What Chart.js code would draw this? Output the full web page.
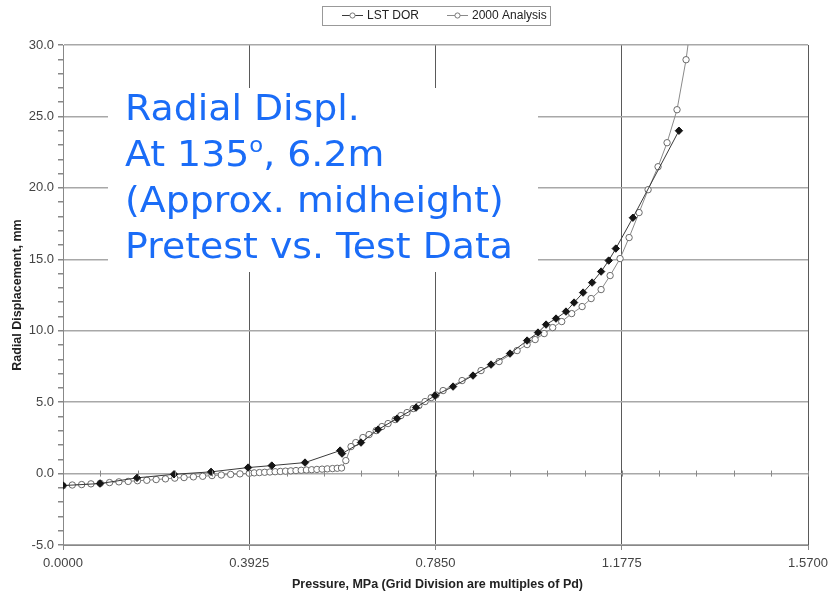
<!DOCTYPE html>
<html>
<head>
<meta charset="utf-8">
<script src="https://cdn.jsdelivr.net/npm/chart.js@4.4.1/dist/chart.umd.min.js"></script>
<style>
  html, body { margin: 0; padding: 0; background: #fff; }
  #wrap { width: 830px; height: 597px; }
</style>
</head>
<body>
<div id="wrap"><canvas id="chart" width="830" height="597"></canvas></div>
<script>
// Axis ticks
const xTicks = [0, 0.3925, 0.785, 1.1775, 1.57];
const yTicks = [-5, 0, 5, 10, 15, 20, 25, 30];
const xMinorStep = 0.0785;
const yMinorStep = 1;

// LST DOR (test data)
const lstPressure = [0, 0.078, 0.156, 0.234, 0.312, 0.390, 0.440, 0.510, 0.584, 0.588,
  0.628, 0.664, 0.704, 0.744, 0.784, 0.822, 0.864, 0.902, 0.942, 0.978,
  1.001, 1.018, 1.039, 1.060, 1.077, 1.096, 1.115, 1.134, 1.150, 1.165,
  1.201, 1.298];
const lstDispl = [-0.84, -0.70, -0.30, -0.05, 0.12, 0.42, 0.56, 0.77, 1.61, 1.40,
  2.17, 3.08, 3.85, 4.62, 5.46, 6.09, 6.86, 7.63, 8.40, 9.31,
  9.87, 10.43, 10.85, 11.34, 11.97, 12.67, 13.37, 14.14, 14.91, 15.75,
  17.91, 24.0];

// 2000 Analysis (pretest)
const anaPressure = [0, 0.0196, 0.0393, 0.0589, 0.0785, 0.0981, 0.1178, 0.1374, 0.1570, 0.1766,
  0.1963, 0.2159, 0.2355, 0.2551, 0.2748, 0.2944, 0.3140, 0.3336, 0.3533, 0.3729,
  0.3925, 0.403, 0.414, 0.425, 0.436, 0.447, 0.458, 0.469, 0.480, 0.491,
  0.502, 0.513, 0.524, 0.535, 0.546, 0.557, 0.568, 0.578, 0.587, 0.596,
  0.607, 0.617, 0.632, 0.645, 0.660, 0.672, 0.685, 0.700, 0.712, 0.725,
  0.738, 0.750, 0.763, 0.776, 0.786, 0.801, 0.841, 0.881, 0.919, 0.957,
  0.978, 0.995, 1.014, 1.032, 1.051, 1.072, 1.094, 1.113, 1.134, 1.153,
  1.174, 1.193, 1.214, 1.233, 1.254, 1.273, 1.294, 1.313, 1.325];
const anaDispl = [-0.85, -0.80, -0.77, -0.72, -0.68, -0.63, -0.58, -0.55, -0.50, -0.47,
  -0.42, -0.37, -0.32, -0.28, -0.23, -0.19, -0.14, -0.10, -0.06, -0.02,
  0.02, 0.05, 0.07, 0.09, 0.11, 0.13, 0.15, 0.17, 0.19, 0.21,
  0.23, 0.25, 0.27, 0.29, 0.31, 0.33, 0.35, 0.37, 0.39, 0.91,
  1.89, 2.17, 2.52, 2.73, 3.01, 3.29, 3.50, 3.78, 4.06, 4.27,
  4.55, 4.76, 5.04, 5.32, 5.50, 5.81, 6.51, 7.21, 7.84, 8.61,
  9.03, 9.38, 9.80, 10.22, 10.64, 11.20, 11.69, 12.25, 12.88, 13.86,
  15.05, 16.52, 18.27, 19.87, 21.48, 23.16, 25.47, 28.97, 32.0];

const seriesLabels = ['LST DOR', '2000 Analysis'];
const xTitle = 'Pressure, MPa (Grid Division are multiples of Pd)';
const yTitle = 'Radial Displacement, mm';

const lstPoints = lstPressure.map((p, i) => ({ x: p, y: lstDispl[i] }));
const anaPoints = anaPressure.map((p, i) => ({ x: p, y: anaDispl[i] }));

const tickFont = { family: 'Liberation Sans', size: 13 };
const NOTE_BLUE = '#1a6cf7';

// white note box with the blue caption
const notePlugin = {
  id: 'note',
  beforeDatasetsDraw(chart) {
    const c = chart.ctx;
    c.save();
    c.fillStyle = '#fff';
    c.fillRect(108, 88, 430, 184);
    c.fillStyle = NOTE_BLUE;
    c.textBaseline = 'alphabetic';
    c.font = '35px "DejaVu Sans"';
    const stretch = 388 / c.measureText('Pretest vs. Test Data').width;
    const left = 125;
    const drawLine = (parts, y) => {
      c.save();
      c.translate(left, y);
      c.scale(stretch, 1);
      let x = 0;
      parts.forEach(p => {
        c.font = p.sup ? '21px "DejaVu Sans"' : '35px "DejaVu Sans"';
        c.fillText(p.t, x, p.sup ? -14 : 0);
        x += c.measureText(p.t).width;
      });
      c.restore();
    };
    drawLine([{ t: 'Radial Displ.' }], 120);
    drawLine([{ t: 'At 135' }, { t: 'o', sup: true }, { t: ', 6.2m' }], 166);
    drawLine([{ t: '(Approx. midheight)' }], 212);
    drawLine([{ t: 'Pretest vs. Test Data' }], 258);
    c.restore();
  }
};

// minor ticks on the zero line, axis titles and the boxed legend
const decorPlugin = {
  id: 'decor',
  afterDraw(chart) {
    const c = chart.ctx;
    const xs = chart.scales.x, ys = chart.scales.y;
    const y0 = ys.getPixelForValue(0);
    c.save();
    c.strokeStyle = '#888';
    c.lineWidth = 1;
    for (let v = 0; v <= 1.57 + 1e-9; v += xMinorStep) {
      const px = Math.round(xs.getPixelForValue(v)) + 0.5;
      c.beginPath();
      c.moveTo(px, y0 - 3);
      c.lineTo(px, y0 + 3);
      c.stroke();
    }

    // axis titles
    c.fillStyle = '#222';
    c.font = 'bold 12.5px "Liberation Sans"';
    c.textAlign = 'center';
    c.textBaseline = 'middle';
    c.fillText(xTitle, (chart.chartArea.left + chart.chartArea.right) / 2 + 2, 585);
    c.save();
    c.translate(18, (chart.chartArea.top + chart.chartArea.bottom) / 2);
    c.rotate(-Math.PI / 2);
    c.fillText(yTitle, 0, 0);
    c.restore();

    // legend
    c.strokeStyle = '#999';
    c.strokeRect(322.5, 6.5, 228, 19);
    c.font = '12px "Liberation Sans"';
    c.textAlign = 'left';
    const items = [{ x: 342, ds: chart.data.datasets[0] }, { x: 447, ds: chart.data.datasets[1] }];
    items.forEach((it, i) => {
      const ly = 15.5;
      c.strokeStyle = it.ds.borderColor;
      c.beginPath();
      c.moveTo(it.x, ly);
      c.lineTo(it.x + 21, ly);
      c.stroke();
      c.fillStyle = '#fff';
      c.strokeStyle = '#777';
      c.beginPath();
      c.arc(it.x + 10.5, ly, 2.6, 0, Math.PI * 2);
      c.fill();
      c.stroke();
      c.fillStyle = '#222';
      c.fillText(seriesLabels[i], it.x + 25, ly + 0.5);
    });
    c.restore();
  }
};

new Chart(document.getElementById('chart'), {
  type: 'scatter',
  data: {
    datasets: [
      {
        label: seriesLabels[0],
        data: lstPoints,
        showLine: true,
        borderColor: '#3a3a3a',
        borderWidth: 1,
        pointStyle: 'rectRot',
        pointRadius: 3.7,
        pointBackgroundColor: '#151515',
        pointBorderColor: '#151515',
        pointBorderWidth: 1,
        order: 0
      },
      {
        label: seriesLabels[1],
        data: anaPoints,
        showLine: true,
        borderColor: '#8a8a8a',
        borderWidth: 1,
        pointStyle: 'circle',
        pointRadius: 3.2,
        pointBackgroundColor: '#fff',
        pointBorderColor: '#6a6a6a',
        pointBorderWidth: 1,
        order: 1
      }
    ]
  },
  options: {
    responsive: false,
    animation: false,
    layout: { padding: { top: 45, right: 22, left: 0, bottom: 0 } },
    plugins: { legend: { display: false }, tooltip: { enabled: false } },
    scales: {
      x: {
        type: 'linear',
        min: 0,
        max: 1.57,
        afterBuildTicks: s => { s.ticks = xTicks.map(v => ({ value: v })); },
        afterFit: s => { s.height = 52; s.paddingLeft = 0; s.paddingRight = 0; },
        ticks: {
          callback: v => Number(v).toFixed(4),
          color: '#444',
          font: tickFont,
          padding: 6,
          maxRotation: 0,
          autoSkip: false
        },
        grid: { color: '#5a5a5a', lineWidth: 1, tickLength: 5, tickColor: '#888' },
        border: { color: '#888', width: 1 }
      },
      y: {
        type: 'linear',
        min: -5,
        max: 30,
        afterBuildTicks: s => {
          const t = [];
          for (let v = -5; v <= 30; v += yMinorStep) t.push({ value: v });
          s.ticks = t;
        },
        afterFit: s => { s.width = 63; s.paddingTop = 0; s.paddingBottom = 0; },
        ticks: {
          callback: v => yTicks.includes(v) ? v.toFixed(1) : '',
          color: '#444',
          font: tickFont,
          padding: 4,
          autoSkip: false
        },
        grid: {
          color: ctx => yTicks.includes(ctx.tick.value) ? '#a8a8a8' : 'rgba(0,0,0,0)',
          lineWidth: 1.5,
          tickLength: 5,
          tickColor: '#888'
        },
        border: { color: '#888', width: 1 }
      }
    }
  },
  plugins: [notePlugin, decorPlugin]
});
</script>
</body>
</html>
